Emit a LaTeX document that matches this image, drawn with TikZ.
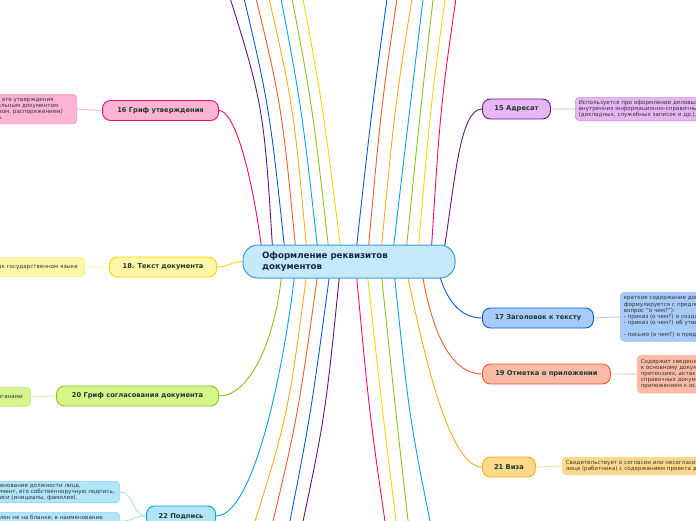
\documentclass[tikz,border=0pt]{standalone}
\usepackage{fontspec}
\setmainfont{DejaVu Sans}
\usetikzlibrary{backgrounds}
\definecolor{pinkline}{HTML}{EC0C6E}
\definecolor{pinkfill}{HTML}{FDB4D4}
\definecolor{yellowline}{HTML}{F3D600}
\definecolor{yellowfill}{HTML}{FFF6A8}
\definecolor{greenline}{HTML}{8CC21A}
\definecolor{greenfill}{HTML}{D5F78A}
\definecolor{cyanline}{HTML}{00A2E8}
\definecolor{cyanfill}{HTML}{B3E5FA}
\definecolor{purpleline}{HTML}{5B1A7A}
\definecolor{purplefill}{HTML}{E8B6F5}
\definecolor{blueline}{HTML}{0A5AD6}
\definecolor{bluefill}{HTML}{A7CBFA}
\definecolor{redline}{HTML}{F4592B}
\definecolor{redfill}{HTML}{FBBBA6}
\definecolor{orangeline}{HTML}{FBAB16}
\definecolor{orangefill}{HTML}{FFD98A}
\definecolor{rootline}{HTML}{3A9BDC}
\definecolor{rootfill}{HTML}{C6E9FA}
\definecolor{topictext}{HTML}{1B3A2E}
\definecolor{roottext}{HTML}{14284B}
\definecolor{desctext}{HTML}{333333}
\tikzstyle{root}=[draw=rootline, fill=rootfill, line width=1pt, rounded corners=15pt, minimum height=33pt, inner xsep=19pt, text width=174pt, align=left, text=roottext, font=\bfseries\fontsize{8.7}{10.5}\selectfont]
\tikzstyle{topic}=[draw, line width=0.9pt, rounded corners=8pt, minimum height=20pt, inner xsep=4pt, text=topictext, font=\bfseries\fontsize{6.7}{8}\selectfont]
\tikzstyle{note}=[draw, line width=0.6pt, rounded corners=4pt, inner xsep=3.5pt, inner ysep=3pt, align=left, text=desctext, font=\fontsize{5.6}{6.1}\selectfont]
\tikzstyle{branch}=[line width=0.9pt]
\tikzstyle{link}=[line width=0.8pt]

\begin{document}
\begin{tikzpicture}[x=1pt, y=-1pt]
\useasboundingbox (0,0) rectangle (696,520);
\clip (0,0) rectangle (696,520);

\node[root] at (349,261.5) (root) {Оформление реквизитов\\документов};

% left side
\node[topic, draw=pinkline, fill=pinkfill, minimum width=116pt, anchor=east] at (219,110.5) (n16) {16 Гриф утверждения};
\node[note, draw=pinkline!45, fill=pinkfill, inner xsep=14pt, anchor=north east] at (77,94) (d16) {Проставляется на документе в случае его утверждения\\должностным лицом или распорядительным документом\\организации (постановлением, приказом, распоряжением)\\или решением коллегиального органа.};
\node[topic, draw=yellowline, fill=yellowfill, minimum width=107pt, anchor=east] at (217,267) (n18) {18. Текст документа};
\node[note, draw=yellowline!50, fill=yellowfill, inner xsep=7pt, minimum height=19pt, anchor=north east] at (85,257) (d18) {Текст документа составляется на русском языке как государственном языке};
\node[topic, draw=greenline, fill=greenfill, minimum width=162pt, anchor=east] at (219,396) (n20) {20 Гриф согласования документа};
\node[note, draw=greenline!50, fill=greenfill, inner xsep=8pt, minimum height=19pt, anchor=north east] at (31,387) (d20) {Документ согласовывается с заинтересованными органами};
\node[topic, draw=cyanline, fill=cyanfill, minimum width=69pt, anchor=east] at (216,516) (n22) {22 Подпись};
\node[note, draw=cyanline!45, fill=cyanfill, inner xsep=5pt, inner ysep=2pt, anchor=north east] at (120,481) (d22a) {В нее входят: наименование должности лица,\\подписавшего документ, его собственноручную подпись,\\расшифровку подписи (инициалы, фамилия).};
\node[note, draw=cyanline!45, fill=cyanfill, inner xsep=17pt, anchor=north east] at (120,512) (d22b) {Если документ составлен не на бланке, в наименование\\должности включается название организации.};

% right side
\node[topic, draw=purpleline, fill=purplefill, minimum width=68pt, anchor=west] at (482,109) (n15) {15 Адресат};
\node[note, draw=purpleline!40, fill=purplefill, anchor=north west] at (575,97) (d15) {Используется при оформлении деловых писем и\\внутренних информационно-справочных документов\\(докладных, служебных записок и др.).};
\node[topic, draw=blueline, fill=bluefill, minimum width=111pt, anchor=west] at (482,318) (n17) {17 Заголовок к тексту};
\node[note, draw=blueline!40, fill=bluefill, inner ysep=3.5pt, anchor=north west] at (620,292) (d17) {краткое содержание документа. Заголовок\\формулируется с предлогом «о» (отвечает на\\вопрос "о чем?"):\\- приказ (о чем?) о создании комиссии;\\- приказ (о чем?) об утверждении положения;\\[6.1pt]- письмо (о чем?) о предоставлении информации.};
\node[topic, draw=redline, fill=redfill, minimum width=128pt, anchor=west] at (482,374) (n19) {19 Отметка о приложении};
\node[note, draw=redline!45, fill=redfill, inner ysep=4pt, anchor=north west] at (637,355) (d19) {Содержит сведения о документах, прилагаемых\\к основному документу (письмах, договорах,\\претензиях, актах, отчетах,\\справочных документах), являющихся\\приложением к основному документу.};
\node[topic, draw=orangeline, fill=orangefill, minimum width=53pt, anchor=west] at (482,467) (n21) {21 Виза};
\node[note, draw=orangeline!55, fill=orangefill, anchor=north west] at (562,457) (d21) {Свидетельствует о согласии или несогласии должностного\\лица (работника) с содержанием проекта документа.};

% notes
\draw[link, pinkline!35] (d16.east) -- (n16.west);
\draw[link, yellowline!40] (d18.east) -- (n18.west);
\draw[link, greenline!35] (d20.east) -- (n20.west);
\draw[link, cyanline!35] (d22a.east) .. controls +(14,0) and +(-14,0) .. (n22.west);
\draw[link, cyanline!35] (d22b.east) .. controls +(14,0) and +(-14,0) .. (n22.west);
\draw[link, purpleline!35] (n15.east) -- (d15.west);
\draw[link, blueline!35] (n17.east) -- (d17.west);
\draw[link, redline!35] (n19.east) -- (d19.west);
\draw[link, orangeline!45] (n21.east) -- (d21.west);

\begin{scope}[on background layer]
% branches going up
\foreach \o/\cx/\ex/\c [count=\i] in {30/263.5/217.9/purpleline, 42/269/234.8/blueline, 53/281.6/246.6/redline, 64/293.3/260/orangeline, 75/301.1/273.5/cyanline, 86/312.1/284.5/greenline, 98/322.5/295.6/yellowline, 114/372.6/392.4/blueline, 126/381.5/402.8/redline, 139/395.2/418.2/orangeline, 151/410.5/427.8/cyanline, 164/421.2/437.6/greenline, 176/430.8/450.4/yellowline, 189/440.7/461.6/pinkline}
{
  \coordinate (up\i) at (\ex,-40);
  \draw[branch, \c] ([xshift=\o pt, yshift=-3pt]root.north west) .. controls (\cx,102.5) .. (up\i);
}
% branches going down
\foreach \o/\cx/\ex/\c [count=\i] in {64/287.6/242.8/orangeline, 75/297.6/263.7/redline, 87/310.2/282.2/blueline, 97/325/294.7/purpleline, 114/369.9/390.7/pinkline, 125/383.3/401/yellowline, 139/396.5/412.5/greenline, 152/409.3/437.8/cyanline}
{
  \coordinate (dn\i) at (\ex,560);
  \draw[branch, \c] ([xshift=\o pt, yshift=3pt]root.south west) .. controls (\cx,419) .. (dn\i);
}
\draw[branch, pinkline] ([xshift=19pt, yshift=-3pt]root.north west) .. controls (252,175) and (235,110.5) .. (n16.east);
\draw[branch, purpleline] ([xshift=202pt, yshift=-3pt]root.north west) .. controls (455,180) and (460,109) .. (n15.west);
\draw[branch, yellowline] (root.west) .. controls (230,262) and (229,267) .. (n18.east);
\draw[branch, greenline] ([xshift=39pt, yshift=3pt]root.south west) .. controls (275,340) and (250,396) .. (n20.east);
\draw[branch, cyanline] ([xshift=52pt, yshift=3pt]root.south west) .. controls (285,360) and (255,516) .. (n22.east);
\draw[branch, blueline] ([xshift=197pt, yshift=3pt]root.south west) .. controls (447,300) and (460,318) .. (n17.west);
\draw[branch, redline] ([xshift=180pt, yshift=3pt]root.south west) .. controls (432,330) and (450,374) .. (n19.west);
\draw[branch, orangeline] ([xshift=165pt, yshift=3pt]root.south west) .. controls (425,360) and (450,467) .. (n21.west);
\end{scope}
\end{tikzpicture}
\end{document}
